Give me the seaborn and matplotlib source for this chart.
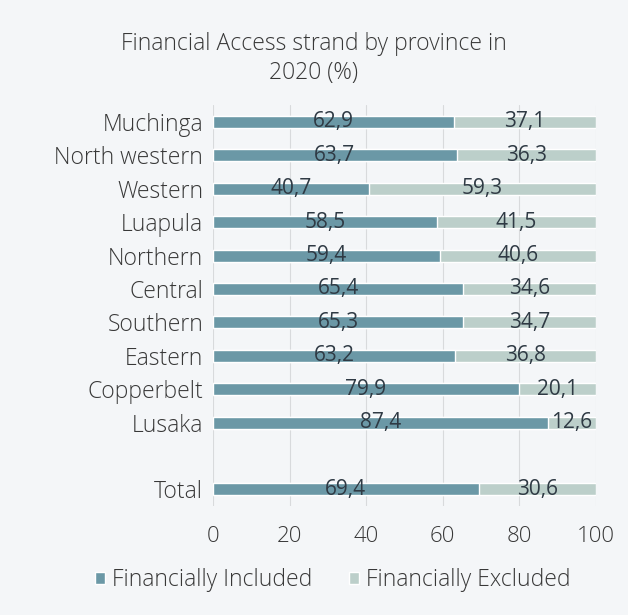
import numpy as np
import pandas as pd
import matplotlib.pyplot as plt
import seaborn as sns

# data
provinces = ['Muchinga', 'North western', 'Western', 'Luapula', 'Northern',
             'Central', 'Southern', 'Eastern', 'Copperbelt', 'Lusaka', 'Total']
included = [62.9, 63.7, 40.7, 58.5, 59.4, 65.4, 65.3, 63.2, 79.9, 87.4, 69.4]
excluded = [37.1, 36.3, 59.3, 41.5, 40.6, 34.6, 34.7, 36.8, 20.1, 12.6, 30.6]
# blank slot between Lusaka and Total
row_order = provinces[:-1] + [' '] + provinces[-1:]
xticks = [0, 20, 40, 60, 80, 100]

col_in = '#6b98a6'
col_ex = '#bccfca'
bg = '#f4f6f8'
txt = '#383838'

sns.set_theme(style='white')
plt.rcParams['font.family'] = ['Open Sans', 'DejaVu Sans']

df = pd.DataFrame({'province': provinces, 'included': included, 'excluded': excluded})
df['total'] = df['included'] + df['excluded']

fig = plt.figure(figsize=(6.28, 6.15), dpi=100, facecolor=bg)
ax = fig.add_axes([0.339, 0.177, 0.61, 0.652], facecolor=bg)

sns.barplot(data=df, x='total', y='province', order=row_order, color=col_ex,
            width=0.36, saturation=1, ax=ax, label='Financially Excluded')
sns.barplot(data=df, x='included', y='province', order=row_order, color=col_in,
            width=0.36, saturation=1, ax=ax, label='Financially Included')

pos = {p: i for i, p in enumerate(row_order)}
for p, a, b in zip(provinces, included, excluded):
    y = pos[p]
    ax.text(a / 2, y, f'{a:.1f}'.replace('.', ','), ha='center', va='center',
            fontsize=15, color='#2f3a44')
    ax.text(a + b / 2, y, f'{b:.1f}'.replace('.', ','), ha='center', va='center',
            fontsize=15, color='#2f3a44')

ax.set_xlim(0, 100)
ax.set_ylim(len(row_order) - 0.5, -0.5)
ax.set_xticks(xticks)
ax.set_xticklabels([str(t) for t in xticks], fontsize=16, color=txt, fontweight='light')
ax.tick_params(axis='y', labelsize=16.5, labelcolor=txt, length=0, pad=7)
ax.tick_params(axis='x', length=0, pad=14)
for lab in ax.get_yticklabels():
    lab.set_fontweight('light')
ax.set_xlabel('')
ax.set_ylabel('')
ax.grid(axis='x', color='#d8dadc', linewidth=0.8)
ax.set_axisbelow(True)
for s in ax.spines.values():
    s.set_visible(False)

if ax.legend_:
    ax.legend_.remove()
handles, labels = ax.get_legend_handles_labels()
order_idx = [labels.index('Financially Included'), labels.index('Financially Excluded')]
fig.legend([handles[i] for i in order_idx], [labels[i] for i in order_idx],
           loc='center', bbox_to_anchor=(0.53, 0.057), ncol=2, frameon=False,
           handlelength=0.45, handleheight=0.45, handletextpad=0.3,
           columnspacing=1.6, prop={'weight': 'light', 'size': 16.5},
           labelcolor=txt)

fig.text(0.5, 0.905, 'Financial Access strand by province in\n2020 (%)', ha='center',
         va='center', fontsize=16.5, color=txt, fontweight='light', linespacing=1.3)

fig.savefig('out.png', dpi=100, facecolor=bg)
